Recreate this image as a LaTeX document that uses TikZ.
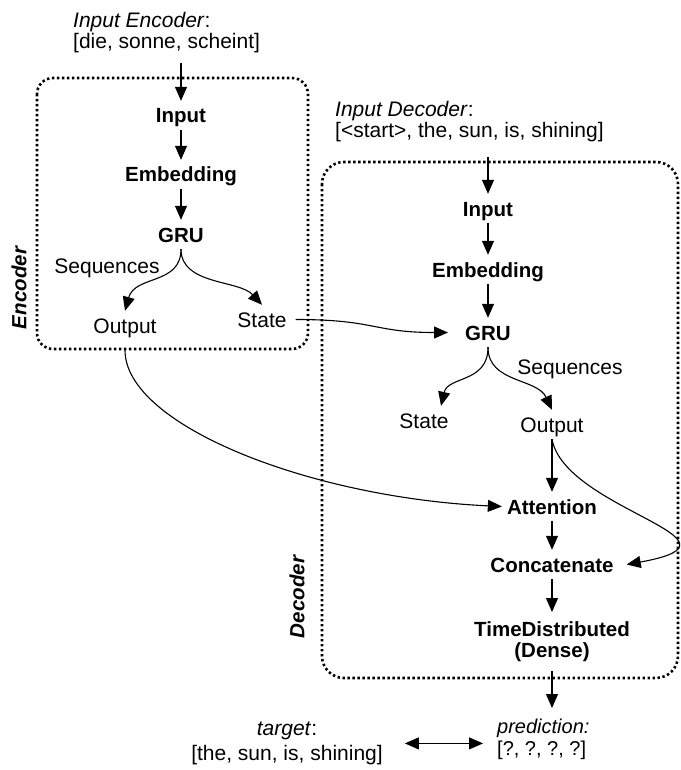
\documentclass[tikz,border=0pt]{standalone}
\usepackage{fontspec}
\setmainfont{Liberation Sans}
\usetikzlibrary{arrows.meta}
\begin{document}
\begin{tikzpicture}[x=1pt,y=-1pt,
  font=\fontsize{21}{21.5}\selectfont,
  lbl/.style={inner xsep=5pt, inner ysep=7pt, text height=15pt, text depth=0pt, anchor=base},
  layer/.style={lbl, font=\fontsize{20.5}{21}\selectfont\bfseries},
  multi/.style={align=left, inner xsep=0pt, anchor=north west},
  arr/.style={-{Triangle[length=14pt,width=12pt]}, line width=1.1pt},
  dblarr/.style={{Triangle[length=14pt,width=12pt]}-{Triangle[length=14pt,width=12pt]}, line width=1.1pt},
  dotbox/.style={line width=2.6pt, dash pattern=on 2.4pt off 2.6pt},
  side/.style={font=\fontsize{20.5}{21}\selectfont\bfseries\itshape, rotate=90}
]
\useasboundingbox (0,0) rectangle (680,770);

% group boxes
\draw[dotbox, rounded corners=16pt] (37,78) rectangle (308,349);
\draw[dotbox, rounded corners=22pt] (322,162) rectangle (678,678);
\node[side] (enclbl) at (19,288) {Encoder};
\node[side] (declbl) at (297,597) {Decoder};

% encoder
\node[multi, inner ysep=10pt] (ehead) at (73,2) {\textit{Input Encoder}:\\{}[die, sonne, scheint]};
\node[layer] (ein) at (181,123) {Input};
\node[layer] (eemb) at (181,182) {Embedding};
\node[layer] (egru) at (181,242) {GRU};
\node[lbl] (eseq) at (107,273) {Sequences};
\node[lbl] (eout) at (125,333) {Output};
\node[lbl] (estate) at (262,327) {State};

% decoder
\node[multi, inner ysep=15pt] (dhead) at (335,86) {\textit{Input Decoder}:\\{}[<start>, the, sun, is, shining]};
\node[layer] (din) at (488,216) {Input};
\node[layer] (demb) at (488,277) {Embedding};
\node[layer] (dgru) at (488,340) {GRU};
\node[lbl] (dseq) at (570,374) {Sequences};
\node[lbl] (dstate) at (424,428) {State};
\node[lbl] (dout) at (552,432) {Output};
\node[layer] (datt) at (552,514) {Attention};
\node[layer] (dcat) at (552,572) {Concatenate};
\node[align=center, inner ysep=9pt, anchor=north, font=\fontsize{20.5}{21}\selectfont\bfseries] (dtd) at (552,612) {TimeDistributed\\(Dense)};

% bottom
\node[align=center, inner sep=0pt, anchor=north] (target) at (287,722) {\textit{target}:\\[3pt]{}[the, sun, is, shining]};
\node[multi, inner ysep=11pt, font=\fontsize{20}{22}\selectfont] (pred) at (497,708) {\textit{prediction:}\\{}[?, ?, ?, ?]};

% encoder connectors
\draw[arr] (ehead.south -| ein.north) -- (ein.north);
\draw[arr] (ein) -- (eemb);
\draw[arr] (eemb) -- (egru);
\draw[arr] (egru.south) .. controls +(0,36) and +(10,-36) .. (eout.north);
\draw[arr] (egru.south) .. controls +(0,36) and +(-23,-25) .. (estate.north);

% cross connectors
\draw[arr] ([xshift=4pt]estate.east) .. controls +(80,0) and +(-75,0) .. ([xshift=-12pt]dgru.west);
\draw[arr] ([yshift=-10pt]eout.south) .. controls +(0,75) and +(-192,-9) .. (datt.west);

% decoder connectors
\draw[arr] (dhead.south -| din.north) -- (din.north);
\draw[arr] (din) -- (demb);
\draw[arr] (demb) -- (dgru);
\draw[arr] (dgru.south) .. controls +(0,36) and +(7,-30) .. ([xshift=17pt]dstate.north);
\draw[arr] (dgru.south) .. controls +(0,36) and +(-15,-32) .. (dout.north);
\draw[arr] (dout) -- (datt);
\draw[arr] (dout.south) .. controls (565,510) and (762,540) .. ([xshift=8pt]dcat.east);
\draw[arr] (datt) -- (dcat);
\draw[arr] (dcat) -- (dtd);
\draw[arr] (dtd.south) -- (dtd.south |- pred.north);
\draw[dblarr] ([xshift=22pt]target.east) -- ([xshift=-14pt]target.east -| pred.west);
\end{tikzpicture}
\end{document}
